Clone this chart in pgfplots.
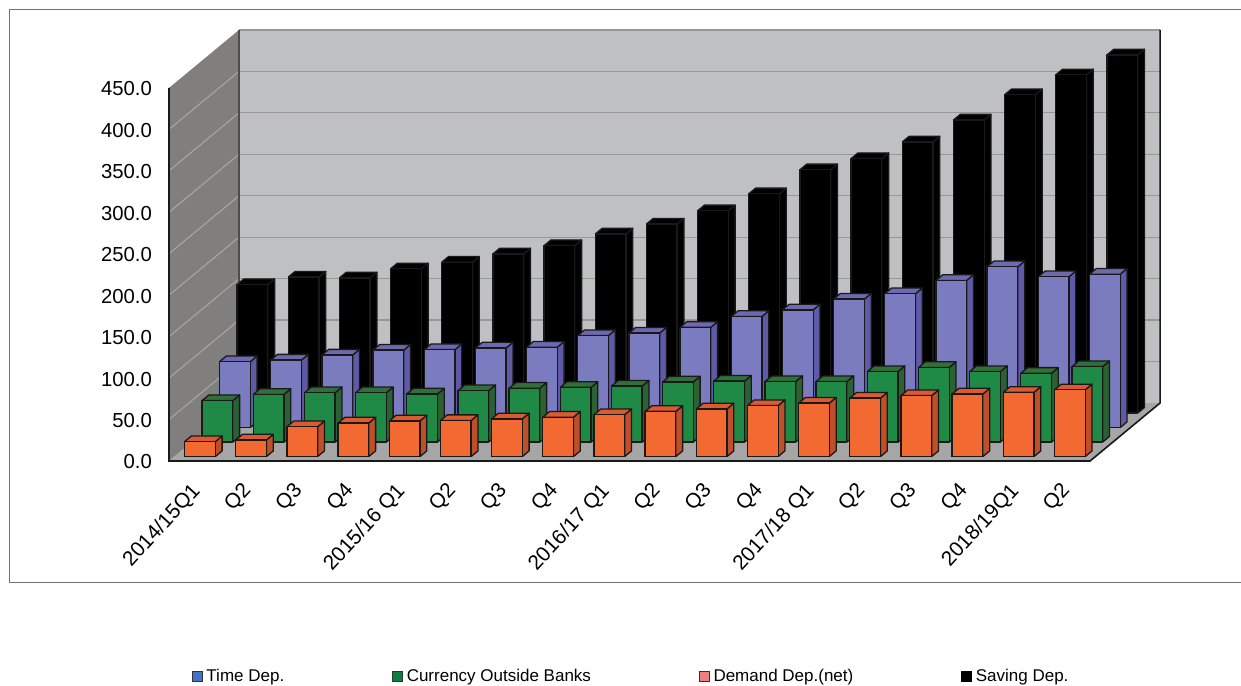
\documentclass[border=0pt]{standalone}
\usepackage{pgfplots}
\usepackage{pgfplotstable}
\usepackage{fontspec}
\setmainfont{Liberation Sans}
\pgfplotsset{compat=1.18}

\definecolor{wallback}{HTML}{BFC0C4}
\definecolor{wallleft}{HTML}{807F7D}
\definecolor{floorgray}{HTML}{A6A6A6}
\definecolor{gridback}{HTML}{9A9694}
\definecolor{gridleft}{HTML}{A8A8A6}
\definecolor{demandF}{HTML}{F26A32}
\definecolor{demandS}{HTML}{BF4F28}
\definecolor{demandT}{HTML}{DB5A30}
\definecolor{currencyF}{HTML}{1F8A45}
\definecolor{currencyS}{HTML}{2B6233}
\definecolor{currencyT}{HTML}{307038}
\definecolor{timeF}{HTML}{7B7BBF}
\definecolor{timeS}{HTML}{5F5AA8}
\definecolor{timeT}{HTML}{6D68B0}
\definecolor{keyTime}{HTML}{4472C4}
\definecolor{keyCurrency}{HTML}{0A8040}
\definecolor{keyDemand}{HTML}{F08080}

% Deposits by quarter, one row per quarter
\pgfplotstableread{
q saving time currency demand
0  155   79.5  50    18
1  164   81.5  57.5  20
2  163   87.5  59.5  36
3  174   93.5  59.5  40.5
4  182   94    58    43
5  192   96    62    43.5
6  202   97    65    45.5
7  216   111   66    47.5
8  228   114   67.5  50.5
9  244   121   72.5  54.5
10 264.5 134   73.5  57.5
11 293.5 142   73    61.5
12 307   155   73    64.5
13 327   161.5 85    70.5
14 353.5 177.5 90    73.5
15 384   194   85    75.5
16 408   182   83    77.5
17 432   185   91    80.5
}\deposits

% One row of 3D columns: table column, depth, front, side and top colours
\newcommand{\drawrow}[5]{%
  \pgfplotsforeachungrouped \q in {0,...,17}{%
    \pgfplotstablegetelem{\q}{#1}\of\deposits
    \let\val\pgfplotsretval
    \pgfmathsetmacro\xa{\q+0.2}%
    \pgfmathsetmacro\xb{\q+0.8}%
    \pgfmathsetmacro\ya{#2-0.195}%
    \pgfmathsetmacro\yb{#2+0.195}%
    \edef\faces{%
      \noexpand\addplot3[forget plot,barface,fill=#4] coordinates
        {(\xb,\ya,0) (\xb,\yb,0) (\xb,\yb,\val) (\xb,\ya,\val) (\xb,\ya,0)};
      \noexpand\addplot3[forget plot,barface,fill=#5] coordinates
        {(\xa,\ya,\val) (\xb,\ya,\val) (\xb,\yb,\val) (\xa,\yb,\val) (\xa,\ya,\val)};
      \noexpand\addplot3[forget plot,barface,fill=#3] coordinates
        {(\xa,\ya,0) (\xb,\ya,0) (\xb,\ya,\val) (\xa,\ya,\val) (\xa,\ya,0)};
    }%
    \faces
  }%
}

\pgfplotsset{barface/.style={draw=black!90,line width=1.3pt,line join=round,mark=none}}

\begin{document}
\begin{tikzpicture}[x=1pt,y=1pt]
\useasboundingbox (0,0) rectangle (1241,685);
\draw[black!55,line width=1pt] (1241,675) -- (9.5,675) -- (9.5,102.5) -- (1241,102.5);
\begin{axis}[
  at={(169pt,224pt)},anchor=origin,
  x={(51.17pt,0pt)},y={(17.5pt,14.5pt)},z={(0pt,0.829pt)},
  xmin=0,xmax=18,ymin=0,ymax=4,zmin=0,zmax=450,
  clip=false,
  axis line style={draw=none},
  major tick length=0pt,
  xtick={0.5,1.5,...,17.5},
  xticklabels={2014/15Q1,Q2,Q3,Q4,2015/16 Q1,Q2,Q3,Q4,2016/17 Q1,Q2,Q3,Q4,2017/18 Q1,Q2,Q3,Q4,2018/19Q1,Q2},
  ytick=\empty,
  ztick={0,50,...,450},
  /pgf/number format/.cd,fixed,fixed zerofill,precision=1,assume math mode=true,
  /pgfplots/.cd,
  xticklabel style={font=\fontsize{20.8}{22}\selectfont,rotate=47.5,anchor=north east,inner sep=0pt,xshift=-18pt,yshift=-10pt},
  zticklabel style={font=\fontsize{20.3}{22}\selectfont,anchor=east,inner sep=0pt,xshift=-17pt,yshift=-1pt},
  legend columns=4,
  legend cell align=left,
  legend image code/.code={\draw[line width=1pt,#1] (0pt,-5.5pt) rectangle (10pt,4.5pt);},
  legend style={at={(0.023,-0.498)},anchor=west,draw=none,fill=none,inner sep=0pt,
    nodes={inner sep=0pt},
    font=\fontsize{17}{19}\selectfont,
    /tikz/every even column/.style={column sep=108pt},
    /tikz/every odd column/.style={column sep=3.5pt}},
]
\addlegendimage{draw=black!80,fill=keyTime}
\addlegendentry{Time Dep.}
\addlegendimage{draw=black!80,fill=keyCurrency}
\addlegendentry{Currency Outside Banks}
\addlegendimage{draw=black!80,fill=keyDemand}
\addlegendentry{Demand Dep.(net)}
\addlegendimage{draw=black,fill=black}
\addlegendentry{Saving Dep.}

% walls and floor
\addplot3[forget plot,fill=wallback,draw=none] coordinates {(0,4,0) (18,4,0) (18,4,450) (0,4,450) (0,4,0)};
\addplot3[forget plot,fill=wallleft,draw=none] coordinates {(0,0,0) (0,4,0) (0,4,450) (0,0,450) (0,0,0)};
\addplot3[forget plot,fill=floorgray,draw=none] coordinates {(0,0,0) (18,0,0) (18,4,0) (0,4,0) (0,0,0)};

% gridlines on both walls
\pgfplotsinvokeforeach{50,100,...,400}{
  \addplot3[forget plot,gridback,line width=1.2pt,mark=none] coordinates {(0,4,#1) (18,4,#1)};
  \addplot3[forget plot,gridleft,line width=1pt,mark=none] coordinates {(0,0,#1) (0,4,#1)};
}
\addplot3[forget plot,gridback,line width=1.5pt,mark=none] coordinates {(0,4,450) (18,4,450)};

% frame edges of the box
\addplot3[forget plot,black!90,line width=1.6pt,mark=none] coordinates {(0,0,450) (0,0,0) (18,0,0) (18,4,0) (18,4,450)};
\addplot3[forget plot,black!70,line width=1.4pt,mark=none] coordinates {(0,4,0) (0,4,450)};

% columns, back row first
\drawrow{saving}{3.5}{black}{black}{black}
\drawrow{time}{2.5}{timeF}{timeS}{timeT}
\drawrow{currency}{1.5}{currencyF}{currencyS}{currencyT}
\drawrow{demand}{0.5}{demandF}{demandS}{demandT}
\end{axis}
\end{tikzpicture}
\end{document}
